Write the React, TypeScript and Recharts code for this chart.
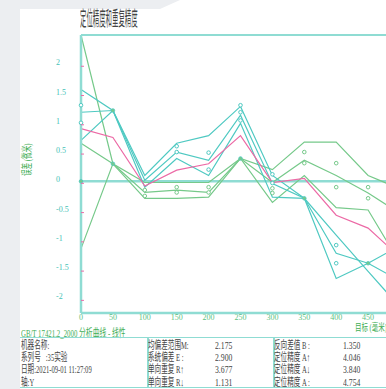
import { ComposedChart, Line, Scatter, XAxis, YAxis, ReferenceLine } from "recharts"

const POSITIONS = [0, 50, 100, 150, 200, 250, 300, 350, 400, 450, 500]
const TEAL_1 = [1.57, 1.21, 0.1, 0.65, 0.78, 1.28, 0.1, -0.29, -0.92, -1.54, -2.15]
const TEAL_2 = [1.18, 1.21, 0.02, 0.5, 0.36, 1.13, -0.04, -0.29, -1.66, -1.4, -1.1]
const TEAL_3 = [0.7, 1.21, -0.1, 0.39, 0.1, 0.99, -0.27, -0.29, -1.23, -1.4, -1.7]
const MEAN = [0.9, 0.75, -0.08, 0.19, 0.3, 0.78, -0.02, 0.05, -0.58, -0.8, -1.3]
const GREEN_1 = [2.5, 0.3, -0.02, -0.02, -0.02, 0.39, 0.2, 0.67, 0.67, 0.1, -0.13]
const GREEN_2 = [0.65, 0.3, -0.19, -0.15, -0.19, 0.39, -0.02, 0.36, 0.1, -0.2, -0.55]
const GREEN_3 = [-1.15, 0.3, -0.29, -0.29, -0.27, 0.39, -0.36, 0.1, -0.45, -0.49, -1.4]

const TEAL_MARK_POS = [0, 0, 150, 150, 200, 200, 250, 250, 250, 300, 300, 400, 400]
const TEAL_MARK_VAL = [1.3, 1.0, 0.6, 0.5, 0.49, 0.2, 1.3, 1.18, 1.04, 0.12, -0.03, -1.09, -1.4]
const GREEN_MARK_POS = [100, 100, 150, 150, 200, 200, 300, 300, 350, 350, 400, 400, 450, 450]
const GREEN_MARK_VAL = [-0.15, -0.25, -0.1, -0.19, -0.1, -0.19, -0.12, -0.2, 0.5, 0.31, 0.31, -0.1, -0.1, -0.29]
const FILLED_POS = [0, 50, 50, 250, 350, 450]
const FILLED_VAL = [0, 0.3, 1.21, 0.39, -0.29, -1.4]

const Y_TICKS = [-2, -1.5, -1, -0.5, 0, 0.5, 1, 1.5, 2]
const X_TICKS = [0, 50, 100, 150, 200, 250, 300, 350, 400, 450]

const TABLE_ROWS = [
  ["机器名称:", "均偏差范围M:", "2.175", "反向差值 B :", "1.350"],
  ["系列号   :35实验", "系统偏差 E :", "2.900", "定位精度 A↑", "4.046"],
  ["日期:2021-09-01 11:27:09", "单向重复 R↑", "3.677", "定位精度 A↓", "3.840"],
  ["轴:Y", "单向重复 R↓", "1.131", "定位精度 A :", "4.754"],
]

const TEAL = "#4fc9c2"
const GREEN = "#76c98a"
const PINK = "#ec6aa6"
const AXIS = "#8fdcd3"
const FONT = "'Liberation Serif', 'Noto Sans CJK SC', serif"

const data = POSITIONS.map((pos, i) => ({
  pos,
  t1: TEAL_1[i],
  t2: TEAL_2[i],
  t3: TEAL_3[i],
  mean: MEAN[i],
  g1: GREEN_1[i],
  g2: GREEN_2[i],
  g3: GREEN_3[i],
}))

const tealMarks = TEAL_MARK_POS.map((pos, i) => ({ pos, val: TEAL_MARK_VAL[i] }))
const greenMarks = GREEN_MARK_POS.map((pos, i) => ({ pos, val: GREEN_MARK_VAL[i] }))
const filledMarks = FILLED_POS.map((pos, i) => ({ pos, val: FILLED_VAL[i] }))

const ring = (color: string) => (props: any) => (
  <circle cx={props.cx} cy={props.cy} r={1.8} fill="#fff" stroke={color} strokeWidth={1} />
)
const dot = (props: any) => (
  <circle cx={props.cx} cy={props.cy} r={1.8} fill={GREEN} stroke={TEAL} strokeWidth={0.8} />
)

const YTick = (props: any) => (
  <g>
    <line x1={81} x2={84} y1={props.y + 2} y2={props.y + 2} stroke={PINK} strokeWidth={1} />
    <text x={56} y={props.y + 1} fontSize={8} fill="#45c2b6" fontFamily={FONT} textAnchor="start">
      {props.payload.value}
    </text>
  </g>
)

const XTick = (props: any) => (
  <text x={props.x} y={320} fontSize={8} fill="#5dbf7f" fontFamily={FONT} textAnchor="middle">
    {props.payload.value}
  </text>
)

const squeeze = (scale: number): React.CSSProperties => ({
  display: "inline-block",
  transform: `scaleX(${scale})`,
  transformOrigin: "left center",
  whiteSpace: "pre",
})

export default function App() {
  const lineProps = { type: "linear" as const, dot: false, isAnimationActive: false, strokeWidth: 1.2 }
  return (
    <div
      style={{
        position: "absolute",
        left: 0,
        top: 0,
        width: 386,
        height: 389,
        overflow: "hidden",
        background: "#eceef1",
        fontFamily: FONT,
      }}
    >
      <div
        style={{
          position: "absolute",
          left: 20,
          top: 0,
          width: 366,
          height: 389,
          background: "#fff",
          clipPath: "polygon(0 9px, 140px 9px, 160px 0, 100% 0, 100% 100%, 0 100%)",
        }}
      />
      <div style={{ position: "absolute", left: 80, top: 8, fontSize: 20, color: "#444", lineHeight: "22px" }}>
        <span style={squeeze(0.32)}>定位精度和重复精度</span>
      </div>
      <div
        style={{
          position: "absolute",
          left: 22,
          top: 176,
          fontSize: 11,
          color: "#3fae55",
          transform: "rotate(-90deg)",
          transformOrigin: "left top",
          whiteSpace: "nowrap",
          lineHeight: "11px",
        }}
      >
        <span style={squeeze(0.6)}>误差 (微米)</span>
      </div>
      <div style={{ position: "absolute", left: 0, top: 0 }}>
        <ComposedChart width={402} height={330} data={data} margin={{ top: 35, right: 2, left: 0, bottom: 0 }}>
          <XAxis
            dataKey="pos"
            type="number"
            domain={[0, 500]}
            ticks={X_TICKS}
            height={17}
            tick={<XTick />}
            tickLine={false}
            axisLine={{ stroke: AXIS, strokeWidth: 2.5 }}
          />
          <YAxis
            type="number"
            domain={[-2.25, 2.5]}
            ticks={Y_TICKS}
            width={81}
            allowDataOverflow
            tick={<YTick />}
            tickLine={false}
            axisLine={{ stroke: AXIS, strokeWidth: 2.5 }}
          />
          <ReferenceLine y={2.5} stroke={AXIS} strokeWidth={2} />
          <ReferenceLine y={0} stroke={AXIS} strokeWidth={2.5} />
          <Line dataKey="g1" stroke={GREEN} {...lineProps} />
          <Line dataKey="g2" stroke={GREEN} {...lineProps} />
          <Line dataKey="g3" stroke={GREEN} {...lineProps} />
          <Line dataKey="t1" stroke={TEAL} {...lineProps} />
          <Line dataKey="t2" stroke={TEAL} {...lineProps} />
          <Line dataKey="t3" stroke={TEAL} {...lineProps} />
          <Line dataKey="mean" stroke={PINK} {...lineProps} />
          <Scatter data={tealMarks} dataKey="val" shape={ring(TEAL)} isAnimationActive={false} />
          <Scatter data={greenMarks} dataKey="val" shape={ring(GREEN)} isAnimationActive={false} />
          <Scatter data={filledMarks} dataKey="val" shape={dot} isAnimationActive={false} />
        </ComposedChart>
      </div>
      <div style={{ position: "absolute", left: 355, top: 322, fontSize: 10, color: "#3fae55", lineHeight: "11px" }}>
        <span style={squeeze(0.65)}>目标 (毫米)</span>
      </div>
      <div style={{ position: "absolute", left: 21, top: 327, fontSize: 11, color: "#3fae55", lineHeight: "12px" }}>
        <span style={squeeze(0.62)}>GB/T 17421.2_2000 分析曲线 - 线性</span>
      </div>
      <div
        style={{
          position: "absolute",
          left: 20,
          top: 337,
          width: 370,
          height: 49,
          borderTop: `1.5px solid ${AXIS}`,
          borderBottom: `1.5px solid ${AXIS}`,
        }}
      />
      <div style={{ position: "absolute", left: 147, top: 337, width: 1.5, height: 50, background: AXIS }} />
      <div style={{ position: "absolute", left: 273, top: 337, width: 1.5, height: 50, background: AXIS }} />
      {TABLE_ROWS.map((row, i) => {
        const top = 339 + i * 12.2
        const cell = (left: number, text: string, scale: number) => (
          <div
            key={left}
            style={{ position: "absolute", left, top, fontSize: 11, color: "#444", lineHeight: "12px" }}
          >
            <span style={squeeze(scale)}>{text}</span>
          </div>
        )
        return (
          <div key={i}>
            {cell(21, row[0], 0.6)}
            {cell(148, row[1], 0.6)}
            {cell(215, row[2], 0.7)}
            {cell(274, row[3], 0.6)}
            {cell(343, row[4], 0.7)}
          </div>
        )
      })}
    </div>
  )
}
